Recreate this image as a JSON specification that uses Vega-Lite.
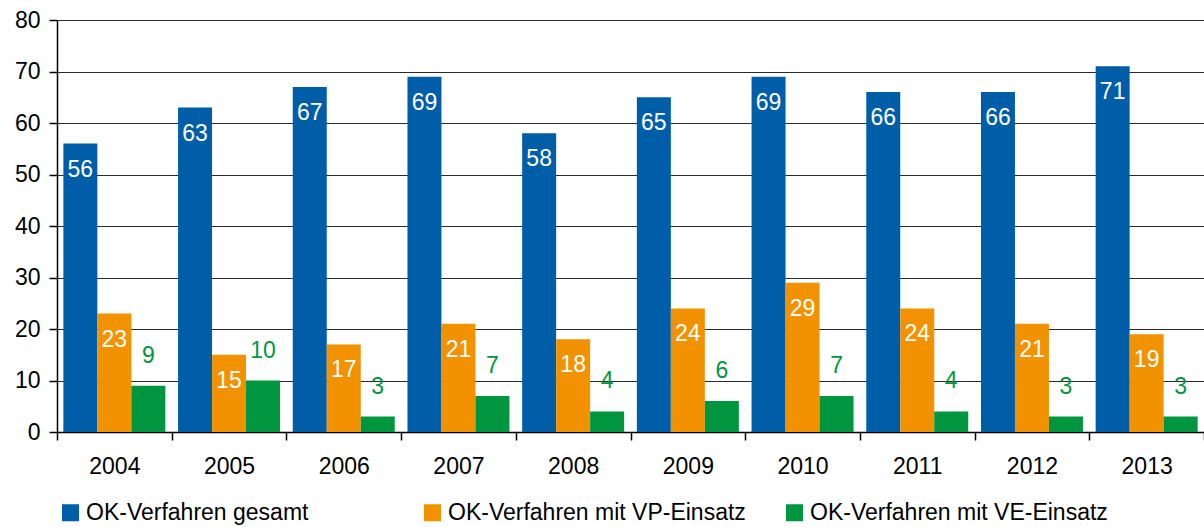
{
  "$schema": "https://vega.github.io/schema/vega-lite/v6.json",
  "autosize": "none",
  "width": 1147,
  "height": 412,
  "padding": {"left": 57, "top": 20, "right": 0, "bottom": 95},
  "background": "white",
  "config": {
    "view": {"stroke": null},
    "font": "Liberation Sans",
    "axis": {"labelFont": "Liberation Sans", "labelColor": "#000", "domainColor": "#000", "tickColor": "#000"},
    "legend": {"labelFont": "Liberation Sans"}
  },
  "data": {
    "values": [
      {"Jahr": "2004", "Serie": "OK-Verfahren gesamt", "Wert": 56},
      {"Jahr": "2004", "Serie": "OK-Verfahren mit VP-Einsatz", "Wert": 23},
      {"Jahr": "2004", "Serie": "OK-Verfahren mit VE-Einsatz", "Wert": 9},
      {"Jahr": "2005", "Serie": "OK-Verfahren gesamt", "Wert": 63},
      {"Jahr": "2005", "Serie": "OK-Verfahren mit VP-Einsatz", "Wert": 15},
      {"Jahr": "2005", "Serie": "OK-Verfahren mit VE-Einsatz", "Wert": 10},
      {"Jahr": "2006", "Serie": "OK-Verfahren gesamt", "Wert": 67},
      {"Jahr": "2006", "Serie": "OK-Verfahren mit VP-Einsatz", "Wert": 17},
      {"Jahr": "2006", "Serie": "OK-Verfahren mit VE-Einsatz", "Wert": 3},
      {"Jahr": "2007", "Serie": "OK-Verfahren gesamt", "Wert": 69},
      {"Jahr": "2007", "Serie": "OK-Verfahren mit VP-Einsatz", "Wert": 21},
      {"Jahr": "2007", "Serie": "OK-Verfahren mit VE-Einsatz", "Wert": 7},
      {"Jahr": "2008", "Serie": "OK-Verfahren gesamt", "Wert": 58},
      {"Jahr": "2008", "Serie": "OK-Verfahren mit VP-Einsatz", "Wert": 18},
      {"Jahr": "2008", "Serie": "OK-Verfahren mit VE-Einsatz", "Wert": 4},
      {"Jahr": "2009", "Serie": "OK-Verfahren gesamt", "Wert": 65},
      {"Jahr": "2009", "Serie": "OK-Verfahren mit VP-Einsatz", "Wert": 24},
      {"Jahr": "2009", "Serie": "OK-Verfahren mit VE-Einsatz", "Wert": 6},
      {"Jahr": "2010", "Serie": "OK-Verfahren gesamt", "Wert": 69},
      {"Jahr": "2010", "Serie": "OK-Verfahren mit VP-Einsatz", "Wert": 29},
      {"Jahr": "2010", "Serie": "OK-Verfahren mit VE-Einsatz", "Wert": 7},
      {"Jahr": "2011", "Serie": "OK-Verfahren gesamt", "Wert": 66},
      {"Jahr": "2011", "Serie": "OK-Verfahren mit VP-Einsatz", "Wert": 24},
      {"Jahr": "2011", "Serie": "OK-Verfahren mit VE-Einsatz", "Wert": 4},
      {"Jahr": "2012", "Serie": "OK-Verfahren gesamt", "Wert": 66},
      {"Jahr": "2012", "Serie": "OK-Verfahren mit VP-Einsatz", "Wert": 21},
      {"Jahr": "2012", "Serie": "OK-Verfahren mit VE-Einsatz", "Wert": 3},
      {"Jahr": "2013", "Serie": "OK-Verfahren gesamt", "Wert": 71},
      {"Jahr": "2013", "Serie": "OK-Verfahren mit VP-Einsatz", "Wert": 19},
      {"Jahr": "2013", "Serie": "OK-Verfahren mit VE-Einsatz", "Wert": 3}
    ]
  },
  "encoding": {
    "x": {
      "field": "Jahr", "type": "nominal", "title": null,
      "scale": {"paddingInner": 0, "paddingOuter": 0},
      "axis": {"labelAngle": 0, "labelFontSize": 23, "tickBand": "extent", "tickSize": 8, "labelPadding": 15, "domainWidth": 1.5, "tickWidth": 1.5}
    },
    "xOffset": {
      "field": "Serie", "type": "nominal",
      "sort": ["OK-Verfahren gesamt", "OK-Verfahren mit VP-Einsatz", "OK-Verfahren mit VE-Einsatz"],
      "scale": {"paddingInner": 0, "paddingOuter": 0.187}
    },
    "y": {
      "field": "Wert", "type": "quantitative", "title": null,
      "scale": {"domain": [0, 80]},
      "axis": {"values": [0, 10, 20, 30, 40, 50, 60, 70, 80], "labelFontSize": 23, "tickSize": 8, "labelPadding": 9, "grid": true, "gridColor": "#2a2a2a", "gridWidth": 1.2, "domainWidth": 1.5, "tickWidth": 1.5}
    }
  },
  "layer": [
    {
      "mark": {"type": "bar"},
      "encoding": {
        "color": {
          "field": "Serie", "type": "nominal",
          "sort": ["OK-Verfahren gesamt", "OK-Verfahren mit VP-Einsatz", "OK-Verfahren mit VE-Einsatz"],
          "scale": {"domain": ["OK-Verfahren gesamt", "OK-Verfahren mit VP-Einsatz", "OK-Verfahren mit VE-Einsatz"], "range": ["#005EA8", "#F39200", "#009640"]},
          "legend": {
            "title": null, "orient": "none", "direction": "horizontal", "legendX": 2, "legendY": 481,
            "columns": 3, "gridAlign": "all", "columnPadding": 37,
            "symbolType": "square", "symbolSize": 289, "symbolStrokeWidth": 0, "labelFontSize": 23, "labelOffset": 4, "labelLimit": 400, "labelColor": "#000"
          }
        }
      }
    },
    {
      "transform": [{"filter": "datum.Serie !== 'OK-Verfahren mit VE-Einsatz'"}],
      "mark": {"type": "text", "baseline": "top", "dy": 15, "fontSize": 23, "color": "white", "font": "Liberation Sans"},
      "encoding": {"text": {"field": "Wert", "type": "quantitative"}}
    },
    {
      "transform": [{"filter": "datum.Serie === 'OK-Verfahren mit VE-Einsatz'"}],
      "mark": {"type": "text", "baseline": "alphabetic", "dy": -23, "fontSize": 23, "color": "#009640", "font": "Liberation Sans"},
      "encoding": {"text": {"field": "Wert", "type": "quantitative"}}
    }
  ]
}
